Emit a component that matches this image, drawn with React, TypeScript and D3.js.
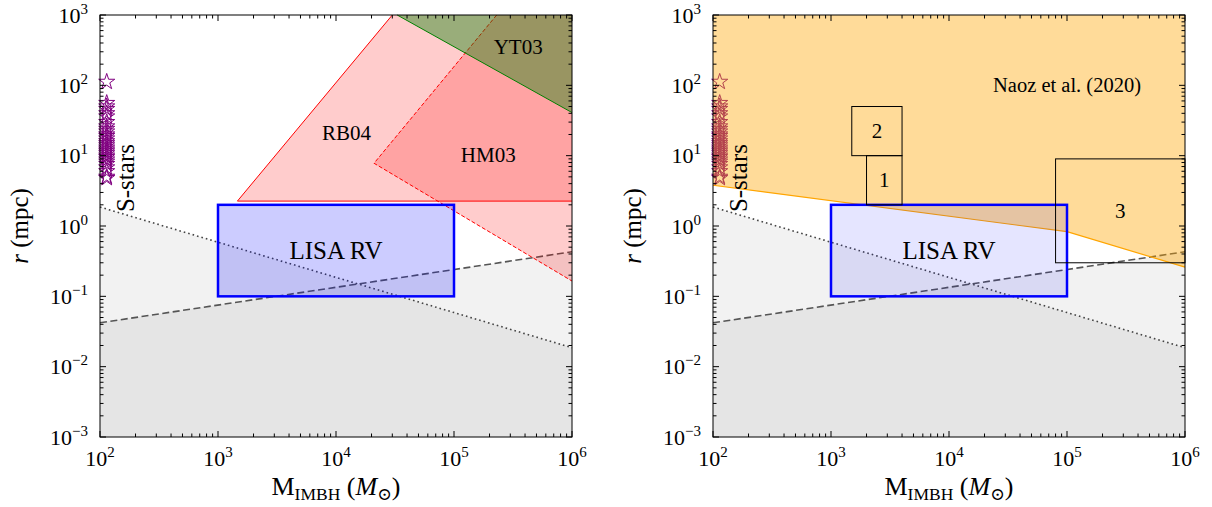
import React from 'react';
import * as d3 from 'd3';

// axis ticks
const massTicks = [1e2, 1e3, 1e4, 1e5, 1e6];
const radiusTicks = [1e-3, 1e-2, 1e-1, 1e0, 1e1, 1e2, 1e3];

// S-stars
const sStarMass = 114;
const sStarRadii = [112, 56, 50, 46, 40, 36, 30, 26, 24, 22, 20, 19, 17.5, 16, 15, 14, 13, 12.2, 11.5, 10.8, 10, 9.5, 8.8, 8.2, 7.6, 6.8, 6, 5, 4.8];

// grey lines
const dottedMass = [1e2, 1e6];
const dottedRadius = [1.86, 0.0186];
const dashedMass = [1e2, 1e6];
const dashedRadius = [0.042, 0.43];

// LISA RV box
const lisaMass = [1e3, 1e5];
const lisaRadius = [0.1, 2];

// left panel regions
const rb04Mass = [1.46e3, 3e4, 1e6, 1e6];
const rb04Radius = [2.26, 1000, 1000, 2.26];
const hm03Mass = [2.3e5, 2.1e4, 1e6, 1e6];
const hm03Radius = [1000, 7.8, 0.165, 1000];
const yt03Mass = [3.3e4, 1e6, 1e6];
const yt03Radius = [1000, 41, 1000];

// right panel
const naozMass = [1e2, 1e5, 1e6];
const naozRadius = [3.8, 0.83, 0.26];
const boxNames = ['1', '2', '3'];
const boxMass = [[2e3, 4e3], [1.5e3, 4e3], [8e4, 1e6]];
const boxRadius = [[2, 10], [10, 50], [0.3, 9]];

const FONT = '"Liberation Serif", "DejaVu Serif", serif';
const W = 472, TOP = 15, BOTTOM = 437;

const exp = (v: number) => String(Math.round(Math.log10(v))).replace('-', '\u2212');

function Panel({ x0, right }: { x0: number; right: boolean }) {
  const x = d3.scaleLog().domain([1e2, 1e6]).range([x0, x0 + W]);
  const y = d3.scaleLog().domain([1e-3, 1e3]).range([BOTTOM, TOP]);
  const pts = (ms: number[], rs: number[]) => ms.map((m, i) => [x(m), y(rs[i])] as [number, number]);
  const poly = (ms: number[], rs: number[]) => pts(ms, rs).map(p => p.join(',')).join(' ');
  const line = d3.line<[number, number]>();
  const area = d3.area<[number, number]>().x(d => d[0]).y0(y(1e-3)).y1(d => d[1]);
  const star = d3.symbol().type(d3.symbolStar).size(80)()!;

  const lisaAlpha = right ? 0.1 : 0.2;
  const isMajor = (v: number) => Math.abs(Math.log10(v) - Math.round(Math.log10(v))) < 1e-6;

  return (
    <g fontFamily={FONT}>
      <path d={area(pts(dottedMass, dottedRadius))!} fill="#000" fillOpacity={0.05} />
      <path d={area(pts(dashedMass, dashedRadius))!} fill="#000" fillOpacity={0.05} />
      <path d={line(pts(dottedMass, dottedRadius))!} stroke="#444" strokeWidth={1.6} strokeDasharray="1.6,3" fill="none" />
      <path d={line(pts(dashedMass, dashedRadius))!} stroke="#555" strokeWidth={1.6} strokeDasharray="7,3.5" fill="none" />

      {sStarRadii.map((r, i) => (
        <path key={i} d={star} transform={`translate(${x(sStarMass)},${y(r)})`} fill="none" stroke="#800080" strokeWidth={1} />
      ))}

      {!right && (
        <g>
          <polygon points={poly(rb04Mass, rb04Radius)} fill="red" fillOpacity={0.2} />
          <polygon points={poly(hm03Mass, hm03Radius)} fill="red" fillOpacity={0.2} />
          <path d={line(pts(hm03Mass.slice(0, 3), hm03Radius.slice(0, 3)))!} stroke="red" strokeWidth={1} strokeDasharray="4,2" fill="none" />
          <path d={line(pts([rb04Mass[1], rb04Mass[0], rb04Mass[3]], [rb04Radius[1], rb04Radius[0], rb04Radius[3]]))!} stroke="red" strokeWidth={1} fill="none" />
          <polygon points={poly(yt03Mass, yt03Radius)} fill="green" fillOpacity={0.4} />
          <path d={line(pts(yt03Mass.slice(0, 2), yt03Radius.slice(0, 2)))!} stroke="green" strokeWidth={1} fill="none" />
          <text x={x(1.23e4)} y={y(21)} dy="0.33em" fontSize={21} textAnchor="middle">RB04</text>
          <text x={x(1.95e5)} y={y(10.2)} dy="0.33em" fontSize={21} textAnchor="middle">HM03</text>
          <text x={x(3.5e5)} y={y(355)} dy="0.33em" fontSize={21} textAnchor="middle">YT03</text>
        </g>
      )}

      {right && (
        <g>
          <polygon points={poly([...naozMass, 1e6, 1e2], [...naozRadius, 1000, 1000])} fill="orange" fillOpacity={0.4} />
          <path d={line(pts(naozMass, naozRadius))!} stroke="orange" strokeWidth={1.2} fill="none" />
        </g>
      )}

      <rect x={x(lisaMass[0])} y={y(lisaRadius[1])} width={x(lisaMass[1]) - x(lisaMass[0])} height={y(lisaRadius[0]) - y(lisaRadius[1])}
        fill="blue" fillOpacity={lisaAlpha} stroke="blue" strokeWidth={2.5} />
      <text x={x(1e4)} y={y(Math.sqrt(lisaRadius[0] * lisaRadius[1]))} dy="0.35em" fontSize={25} textAnchor="middle">LISA RV</text>

      {right && boxNames.map((n, i) => (
        <g key={n}>
          <rect x={x(boxMass[i][0])} y={y(boxRadius[i][1])} width={x(boxMass[i][1]) - x(boxMass[i][0])} height={y(boxRadius[i][0]) - y(boxRadius[i][1])}
            fill="none" stroke="#000" strokeWidth={1} />
          <text x={(x(boxMass[i][0]) + x(boxMass[i][1])) / 2} y={(y(boxRadius[i][0]) + y(boxRadius[i][1])) / 2} dy="0.34em" fontSize={21} textAnchor="middle">{n}</text>
        </g>
      ))}
      {right && <text x={x(1e5)} y={y(100)} dy="0.33em" fontSize={20.5} textAnchor="middle">Naoz et al. (2020)</text>}

      <text transform={`translate(${x(194)},${y(4.8)}) rotate(-90)`} fontSize={25} textAnchor="middle">S-stars</text>

      {/* frame and ticks */}
      <rect x={x0} y={TOP} width={W} height={BOTTOM - TOP} fill="none" stroke="#000" strokeWidth={1} />
      {x.ticks().map((v, i) => {
        const len = isMajor(v) ? 6 : 3.5;
        return (
          <g key={'x' + i} stroke="#000" strokeWidth={1}>
            <line x1={x(v)} x2={x(v)} y1={BOTTOM} y2={BOTTOM - len} />
            <line x1={x(v)} x2={x(v)} y1={TOP} y2={TOP + len} />
          </g>
        );
      })}
      {y.ticks().map((v, i) => {
        const len = isMajor(v) ? 6 : 3.5;
        return (
          <g key={'y' + i} stroke="#000" strokeWidth={1}>
            <line x1={x0} x2={x0 + len} y1={y(v)} y2={y(v)} />
            <line x1={x0 + W} x2={x0 + W - len} y1={y(v)} y2={y(v)} />
          </g>
        );
      })}
      {massTicks.map(v => (
        <text key={'xl' + v} x={x(v)} y={466} fontSize={22} textAnchor="middle">
          10<tspan dy={-9} fontSize={15}>{exp(v)}</tspan>
        </text>
      ))}
      {radiusTicks.map(v => (
        <text key={'yl' + v} x={x0 - 12} y={y(v) + 7.5} fontSize={22} textAnchor="end">
          10<tspan dy={-9} fontSize={15}>{exp(v)}</tspan>
        </text>
      ))}

      <text x={x0 + W / 2} y={495} fontSize={26} textAnchor="middle">
        M<tspan fontSize={17.5} dy={5}>IMBH</tspan><tspan dy={-5}> (</tspan><tspan fontStyle="italic">M</tspan><tspan fontSize={17.5} dy={5}>{'\u2299'}</tspan><tspan dy={-5}>)</tspan>
      </text>
      <text transform={`translate(${x0 - 72},${(TOP + BOTTOM) / 2}) rotate(-90)`} fontSize={25} textAnchor="middle">
        <tspan fontStyle="italic">r</tspan> (mpc)
      </text>
    </g>
  );
}

export default function App() {
  return (
    <svg width={1212} height={507} style={{ position: 'absolute', left: 0, top: 0, background: '#fff' }}>
      <rect width={1212} height={507} fill="#fff" />
      <Panel x0={100} right={false} />
      <Panel x0={713} right={true} />
    </svg>
  );
}
